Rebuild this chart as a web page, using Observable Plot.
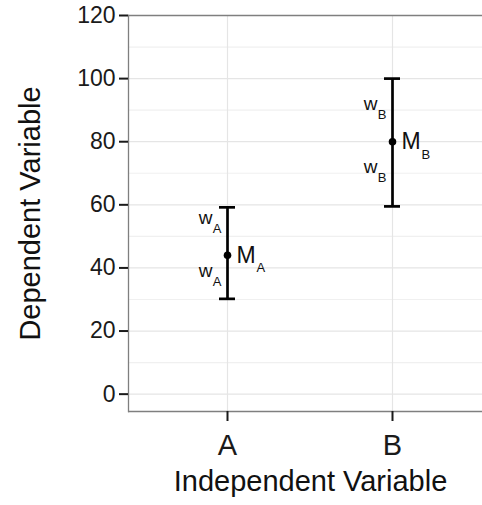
<!DOCTYPE html>
<html><head><meta charset="utf-8">
<script src="https://cdn.jsdelivr.net/npm/d3@7"></script>
<script src="https://cdn.jsdelivr.net/npm/@observablehq/plot@0.6"></script>
<style>body{margin:0;background:#fff}</style>
</head><body><div id="chart"></div>
<script>
const categories = ["A", "B"];
const means = [44, 80];
const lowers = [30.2, 59.5];
const uppers = [59.2, 100];
const wUpperY = [54, 90];
const wLowerY = [37, 70];
const yTicks = [0, 20, 40, 60, 80, 100, 120];
const yMinor = [10, 30, 50, 70, 90, 110];
const xTitle = "Independent Variable";
const yTitle = "Dependent Variable";

const rows = categories.map((c, i) => ({cat: c, mean: means[i], lo: lowers[i], hi: uppers[i]}));
const wLabels = categories.flatMap((c, i) => [{cat: c, y: wUpperY[i]}, {cat: c, y: wLowerY[i]}]);

const font = "'Liberation Sans', Helvetica, Arial, sans-serif";
const chart = Plot.plot({
  width: 482, height: 505,
  marginLeft: 128, marginRight: 0, marginTop: 15, marginBottom: 94,
  style: {fontFamily: font, background: "white", color: "#111"},
  x: {type: "point", domain: categories, range: [128, 491], padding: 0.6},
  y: {domain: [-5.5, 120]},
  marks: [
    Plot.ruleY(yMinor, {stroke: "#f0f0f0", strokeWidth: 1.2}),
    Plot.ruleY(yTicks, {stroke: "#e5e5e5", strokeWidth: 1.2}),
    Plot.ruleX(categories, {x: d => d, stroke: "#e5e5e5", strokeWidth: 1.2}),
    Plot.ruleY([-5.5, 120], {stroke: "#7f7f7f", strokeWidth: 1.3}),
    Plot.frame({anchor: "left", stroke: "#7f7f7f", strokeWidth: 1.3}),
    Plot.axisY({ticks: yTicks, tickSize: 9, tickPadding: 4, fontSize: 23, stroke: "#1a1a1a", fill: "#1a1a1a", strokeWidth: 2, label: null}),
    Plot.axisX({tickSize: 10, tickPadding: 13, fontSize: 29, stroke: "#1a1a1a", fill: "#1a1a1a", strokeWidth: 2, label: null}),
    Plot.ruleX(rows, {x: "cat", y1: "lo", y2: "hi", stroke: "black", strokeWidth: 2.7}),
    Plot.ruleY(rows, {x1: "cat", x2: "cat", y: "lo", insetLeft: -8, insetRight: -8, stroke: "black", strokeWidth: 2.7}),
    Plot.ruleY(rows, {x1: "cat", x2: "cat", y: "hi", insetLeft: -8, insetRight: -8, stroke: "black", strokeWidth: 2.7}),
    Plot.dot(rows, {x: "cat", y: "mean", r: 3.8, fill: "black", stroke: null}),
    Plot.text(rows, {x: "cat", y: "mean", text: () => "M", textAnchor: "start", dx: 9, fontSize: 23, lineAnchor: "middle", fill: "#111"}),
    Plot.text(rows, {x: "cat", y: "mean", text: "cat", textAnchor: "start", dx: 29, dy: 17, fontSize: 13, lineAnchor: "bottom", fill: "#111"}),
    Plot.text(wLabels, {x: "cat", y: "y", text: () => "w", textAnchor: "end", dx: -15, fontSize: 19, lineAnchor: "bottom", fill: "#111"}),
    Plot.text(wLabels, {x: "cat", y: "y", text: "cat", textAnchor: "end", dx: -6, dy: 9, fontSize: 13, lineAnchor: "bottom", fill: "#111"}),
    Plot.text([yTitle], {text: d => d, frameAnchor: "left", textAnchor: "middle", dx: -98, rotate: -90, fontSize: 29, lineAnchor: "middle", fill: "#111"}),
    Plot.text([xTitle], {text: d => d, frameAnchor: "bottom", textAnchor: "middle", dx: 5, dy: 70, fontSize: 29, lineAnchor: "middle", fill: "#111"})
  ]
});
document.getElementById("chart").append(chart);
</script>
</body></html>
